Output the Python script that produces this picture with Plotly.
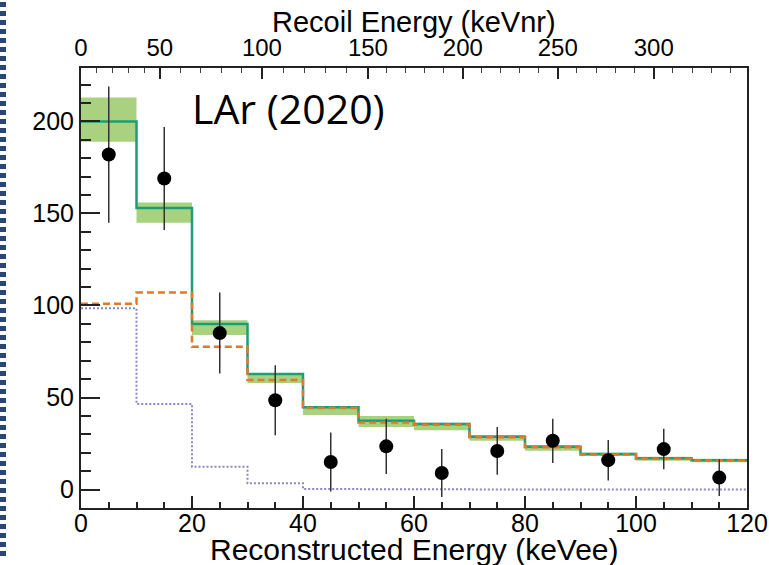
import plotly.graph_objects as go

# ---------------- data ----------------
bin_edges = [0, 10, 20, 30, 40, 50, 60, 70, 80, 90, 100, 110, 120]
bin_centers = [5, 15, 25, 35, 45, 55, 65, 75, 85, 95, 105, 115]

data_counts = [182, 169, 85, 48.5, 15, 23.5, 9, 21, 26.5, 16, 22, 6.5]
data_err = [37, 28, 22, 19, 16, 15, 13, 13, 12, 11, 11, 10]

total_model = [200, 153, 90, 62.8, 44.7, 37.4, 35.6, 28.7, 23.3, 19.3, 17, 16]
band_hi = [213, 156, 92, 62.8, 44.7, 40, 36.3, 29.6, 24.2, 20, 17.8, 16.7]
band_lo = [189, 145, 84, 57.9, 40.5, 34, 32.3, 26.5, 21.1, 18.2, 15.7, 14.9]
orange_model = [101, 107, 77.6, 59.5, 44.3, 36.5, 35.2, 28.4, 23, 19, 16.8, 15.8]
purple_model = [98.5, 46.5, 12.4, 3.4, 0.3, 0.2, 0.2, 0.1, 0.1, 0.1, 0.1, 0.1]

# top axis: recoil energy (keVnr) ticks and their keVee positions
recoil_major_nr = [0, 50, 100, 150, 200, 250, 300]
recoil_major_ee = [0, 14.2, 32.6, 51.7, 68.8, 85.9, 103.2]
recoil_labels = ["0", "50", "100", "150", "200", "250", "300"]

x_range = [0, 120]
y_range = [-10, 229]


def steps(vals):
    return list(vals) + [vals[-1]]


# minor ticks of top axis (every 10 keVnr), interpolated between majors
minor_ee = []
for i in range(len(recoil_major_ee) - 1):
    a, b = recoil_major_ee[i], recoil_major_ee[i + 1]
    for k in range(1, 5):
        minor_ee.append(a + (b - a) * k / 5)
last_step = (recoil_major_ee[-1] - recoil_major_ee[-2]) / 5
v = recoil_major_ee[-1] + last_step
while v < x_range[1] - 0.3:
    minor_ee.append(v)
    v += last_step

fig = go.Figure()

# uncertainty band
fig.add_trace(go.Scatter(x=bin_edges, y=steps(band_lo), mode="lines",
                         line=dict(shape="hv", width=0, color="rgba(0,0,0,0)"),
                         showlegend=False, hoverinfo="skip"))
fig.add_trace(go.Scatter(x=bin_edges, y=steps(band_hi), mode="lines",
                         line=dict(shape="hv", width=0, color="rgba(0,0,0,0)"),
                         fill="tonexty", fillcolor="rgb(168,209,128)",
                         showlegend=False, hoverinfo="skip"))

# purple dotted component
fig.add_trace(go.Scatter(x=bin_edges, y=steps(purple_model), mode="lines",
                         line=dict(shape="hv", width=2, color="#8a86c4", dash="2px,2px"),
                         showlegend=False))
# total (green)
fig.add_trace(go.Scatter(x=bin_edges, y=steps(total_model), mode="lines",
                         line=dict(shape="hv", width=2.5, color="#1b9e77"),
                         showlegend=False))
# orange dashed component
fig.add_trace(go.Scatter(x=bin_edges, y=steps(orange_model), mode="lines",
                         line=dict(shape="hv", width=2.5, color="#e07a2a", dash="7px,4px"),
                         showlegend=False))

# data points
fig.add_trace(go.Scatter(x=bin_centers, y=data_counts, mode="markers",
                         marker=dict(color="black", size=14),
                         error_y=dict(type="data", array=data_err, visible=True,
                                      color="#333333", thickness=1.5, width=0),
                         showlegend=False))

# dummy trace for top axis
fig.add_trace(go.Scatter(x=[None], y=[None], xaxis="x2", showlegend=False,
                         hoverinfo="skip"))

tick_font = dict(family="Liberation Sans, Arial, sans-serif", size=25, color="black")

fig.update_layout(
    width=769, height=565,
    margin=dict(l=81, r=22, t=68, b=57, autoexpand=False),
    paper_bgcolor="white", plot_bgcolor="white",
    showlegend=False,
    xaxis=dict(range=x_range, showgrid=False, zeroline=False, automargin=False,
               showline=True, linecolor="#222", linewidth=2,
               ticks="inside", ticklen=12, tickwidth=2, tickcolor="#222",
               tickmode="array", tickvals=[0, 20, 40, 60, 80, 100, 120],
               tickfont=tick_font, ticklabelstandoff=-8,
               minor=dict(ticks="inside", ticklen=6, tickwidth=1.5,
                          tickcolor="#222", dtick=5, showgrid=False)),
    xaxis2=dict(range=x_range, overlaying="x", side="top", anchor="y",
                showgrid=False, zeroline=False, automargin=False,
                showline=True, linecolor="#222", linewidth=2,
                ticks="inside", ticklen=11, tickwidth=1.5, tickcolor="#222",
                tickmode="array", tickvals=recoil_major_ee, ticktext=recoil_labels,
                tickfont=dict(family="Liberation Sans, Arial, sans-serif", size=24,
                              color="black"),
                ticklabelstandoff=0,
                minor=dict(ticks="inside", ticklen=5, tickwidth=1,
                           tickcolor="#444", tickmode="array", tickvals=minor_ee,
                           showgrid=False)),
    yaxis=dict(range=y_range, showgrid=False, zeroline=False, automargin=False,
               showline=True, mirror=True, linecolor="#222", linewidth=2,
               ticks="inside", ticklen=19, tickwidth=2, tickcolor="#222",
               tickmode="array", tickvals=[0, 50, 100, 150, 200],
               tickfont=tick_font, ticklabelstandoff=0,
               minor=dict(ticks="inside", ticklen=10, tickwidth=1.5,
                          tickcolor="#222", dtick=10, showgrid=False)),
)

# axis titles and label
fig.add_annotation(text="Recoil Energy (keVnr)", xref="paper", yref="paper",
                   x=0.5, y=1.104, xanchor="center", yanchor="middle", showarrow=False,
                   font=dict(family="Liberation Sans, Arial, sans-serif", size=29,
                             color="black"))
fig.add_annotation(text="Reconstructed Energy (keVee)", xref="paper", yref="paper",
                   x=0.5, y=-0.094, xanchor="center", yanchor="middle", showarrow=False,
                   font=dict(family="Liberation Sans, Arial, sans-serif", size=30,
                             color="black"))
fig.add_annotation(text="LAr (2020)", xref="paper", yref="paper",
                   x=0.164, y=0.908, xanchor="left", yanchor="middle", showarrow=False,
                   font=dict(family="Open Sans, sans-serif", size=41, color="black"))

# slide decoration: dashed navy line on the far left
fig.add_shape(type="line", xref="paper", yref="paper",
              x0=-0.1171, x1=-0.1171, y0=1.15, y1=-0.118,
              line=dict(color="#2a4677", width=6, dash="5px,4px"))

fig.write_html("out.html")
